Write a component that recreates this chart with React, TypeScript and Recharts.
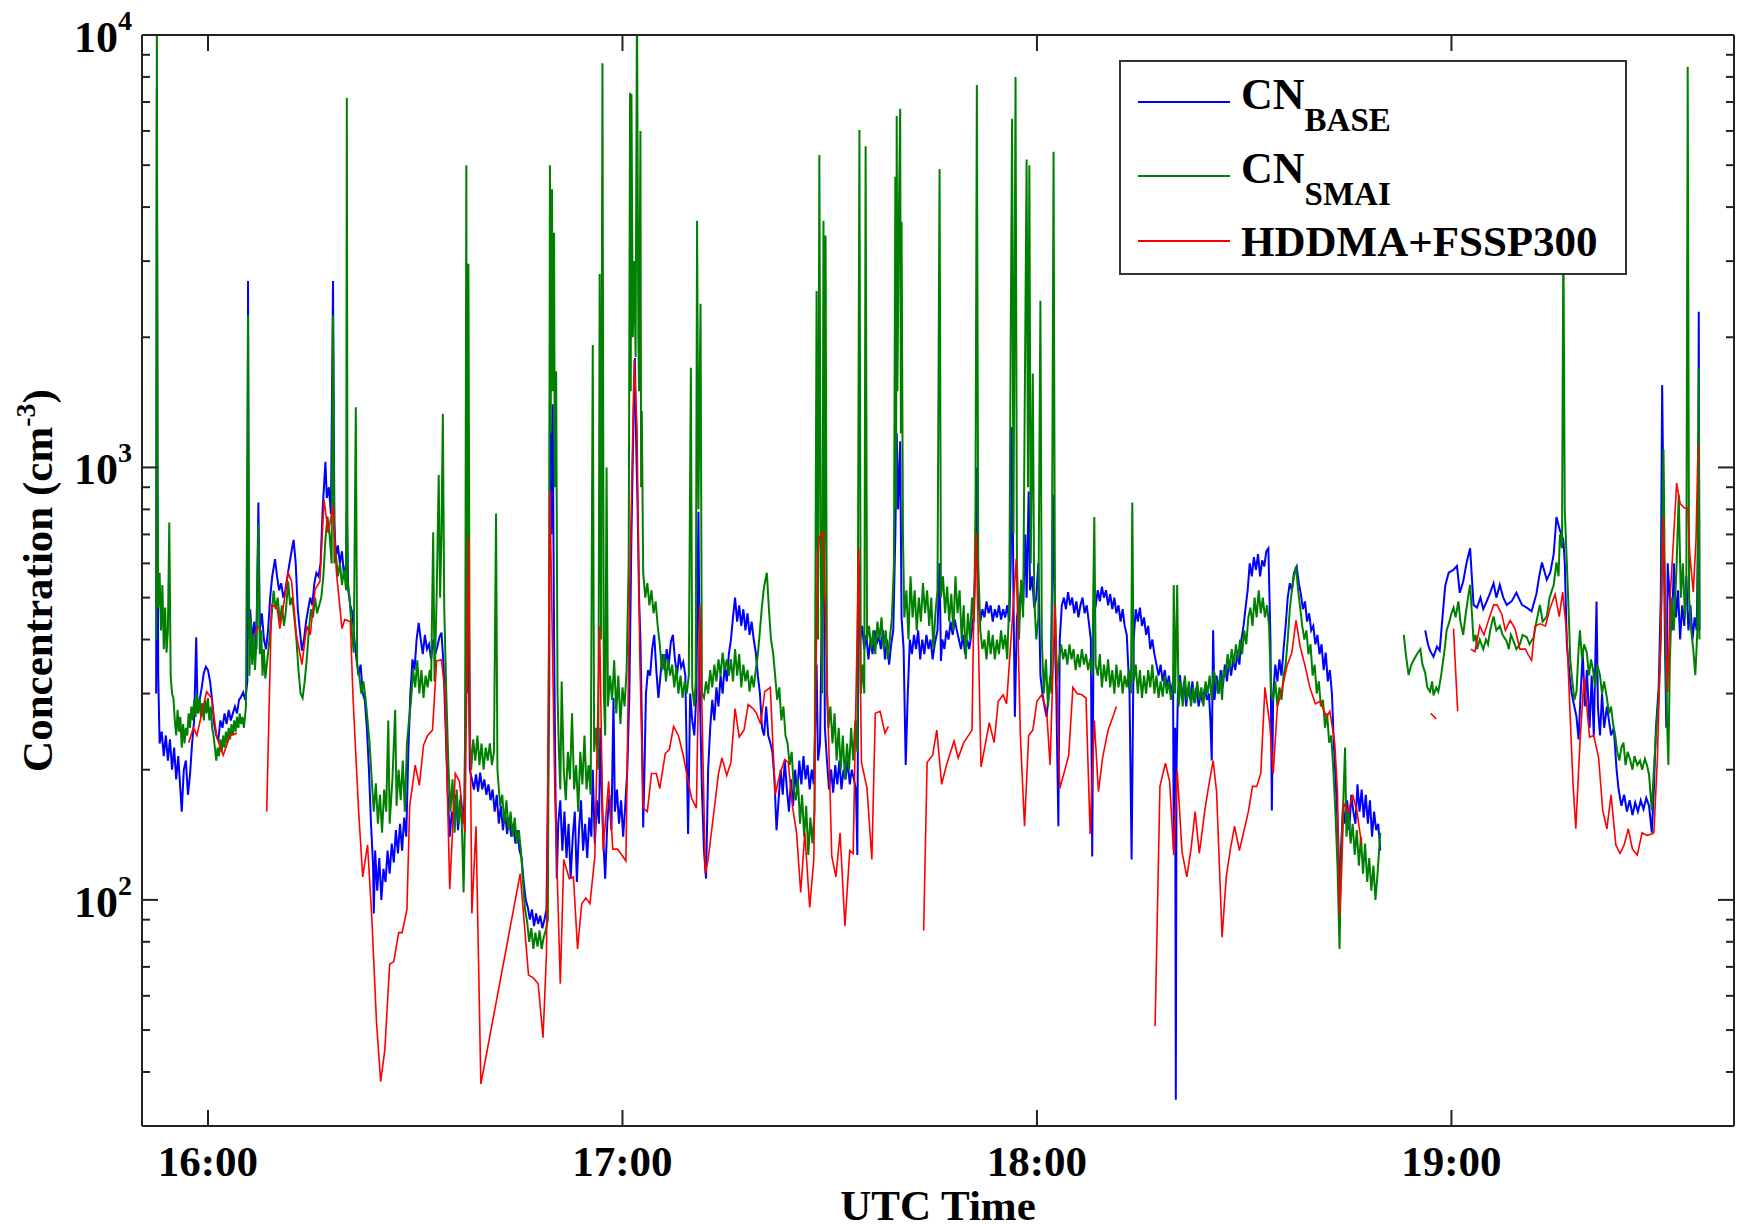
import { LineChart, Line, XAxis, YAxis, Legend } from 'recharts'

// time is minutes after 15:00 UTC, values are cm^-3
type Pt = [number, number | null]

const cnBase: Pt[] = [
  [52.5, 300], [52.6, 7500], [52.7, 900], [52.8, 330], [53.0, 230], [53.3, 245], [53.6, 215], [53.9, 240], [54.2, 210], [54.5, 235],
  [54.8, 200], [55.1, 225], [55.4, 190], [55.7, 215], [56.0, 180], [56.2, 160], [56.5, 200], [56.8, 210], [57.1, 175], [57.4, 195],
  [57.7, 230], [58.0, 260], [58.3, 405], [58.5, 270], [58.8, 290], [59.1, 310], [59.4, 335], [59.7, 346], [60.0, 340], [60.3, 320],
  [60.6, 290], [60.9, 255], [61.2, 240], [61.5, 235], [61.8, 260], [62.1, 250], [62.4, 270], [62.7, 255], [63.0, 275], [63.3, 260],
  [63.6, 270], [63.9, 280], [64.2, 270], [64.5, 290], [64.8, 295], [65.1, 302], [65.4, 290], [65.7, 320], [65.8, 2700], [65.9, 400],
  [66.1, 470], [66.4, 400], [66.7, 440], [67.0, 380], [67.3, 830], [67.5, 420], [67.8, 460], [68.1, 400], [68.4, 380], [68.7, 420],
  [69.0, 500], [69.3, 560], [69.7, 614], [70.0, 560], [70.3, 520], [70.6, 540], [70.9, 500], [71.2, 520], [71.5, 560], [71.8, 600],
  [72.1, 640], [72.4, 680], [72.7, 600], [73.0, 470], [73.3, 420], [73.6, 377], [73.9, 400], [74.2, 440], [74.5, 470], [74.8, 500],
  [75.1, 480], [75.4, 540], [75.7, 570], [76.0, 560], [76.3, 600], [76.6, 800], [77.0, 1030], [77.2, 850], [77.5, 900], [77.8, 780],
  [78.1, 2700], [78.3, 750], [78.5, 620], [78.8, 660], [79.1, 600], [79.4, 640], [79.7, 560], [80.0, 600], [80.1, 790], [80.3, 520],
  [80.6, 480], [80.9, 460], [81.2, 400], [81.5, 360], [81.8, 330], [82.1, 350], [82.4, 300], [82.7, 290], [83.0, 250], [83.3, 200],
  [83.6, 150], [83.9, 120], [84.0, 93], [84.2, 130], [84.5, 105], [84.8, 125], [85.1, 100], [85.4, 118], [85.7, 110], [86.0, 130],
  [86.3, 115], [86.6, 135], [86.9, 122], [87.2, 145], [87.5, 128], [87.8, 150], [88.1, 130], [88.4, 155], [88.7, 140], [89.0, 220],
  [89.3, 300], [89.6, 360], [89.9, 340], [90.2, 400], [90.5, 437], [90.8, 400], [91.1, 370], [91.4, 410], [91.7, 380], [92.0, 390],
  [92.3, 360], [92.6, 400], [92.9, 370], [93.2, 385], [93.5, 405], [93.8, 415], [94.1, 350], [94.4, 250], [94.7, 177], [95.0, 140],
  [95.3, 160], [95.6, 150], [95.9, 175], [96.2, 145], [96.5, 170], [96.8, 150], [97.1, 165], [97.4, 400], [97.6, 700], [97.9, 200],
  [98.2, 190], [98.5, 180], [98.8, 195], [99.1, 178], [99.4, 197], [99.7, 180], [100.0, 190], [100.3, 175], [100.6, 185], [100.9, 170],
  [101.2, 180], [101.5, 160], [101.8, 175], [102.1, 150], [102.4, 165], [102.7, 145], [103.0, 160], [103.3, 142], [103.6, 155], [103.9, 140],
  [104.2, 150], [104.5, 135], [104.8, 145], [105.1, 130], [105.4, 125], [105.7, 110], [106.0, 100], [106.3, 96], [106.6, 90], [106.9, 95],
  [107.2, 87], [107.5, 93], [107.8, 88], [108.1, 92], [108.4, 86], [108.7, 90], [109.0, 95], [109.4, 300], [109.5, 1500], [109.7, 700],
  [109.9, 1400], [110.1, 400], [110.3, 180], [110.5, 112], [110.7, 150], [111.0, 170], [111.3, 130], [111.6, 160], [111.9, 125], [112.2, 150],
  [112.5, 112], [112.8, 140], [113.1, 160], [113.4, 110], [113.7, 145], [114.0, 170], [114.3, 130], [114.6, 150], [114.9, 125], [115.2, 155],
  [115.5, 140], [115.7, 200], [116.0, 135], [116.3, 170], [116.6, 150], [116.8, 250], [117.0, 180], [117.2, 140], [117.5, 112], [117.8, 150],
  [118.1, 175], [118.4, 145], [118.7, 293], [118.9, 160], [119.2, 180], [119.5, 150], [119.8, 170], [120.1, 140], [120.4, 165], [120.7, 200],
  [121.0, 300], [121.3, 700], [121.6, 1300], [121.8, 1790], [122.0, 1100], [122.2, 800], [122.4, 500], [122.6, 400], [122.8, 260], [123.0, 147],
  [123.2, 205], [123.4, 300], [123.7, 340], [124.0, 330], [124.3, 380], [124.6, 410], [124.9, 340], [125.2, 293], [125.5, 330], [125.8, 370],
  [126.1, 340], [126.4, 380], [126.7, 350], [127.0, 395], [127.3, 410], [127.6, 360], [127.9, 330], [128.2, 370], [128.5, 345], [128.8, 355],
  [129.1, 330], [129.5, 142], [129.8, 300], [130.1, 260], [130.4, 240], [130.7, 300], [131.0, 790], [131.2, 300], [131.5, 180], [131.8, 130],
  [132.1, 112], [132.4, 200], [132.7, 250], [133.0, 290], [133.3, 260], [133.6, 310], [133.9, 280], [134.2, 330], [134.5, 300], [134.8, 350],
  [135.1, 320], [135.4, 370], [135.7, 400], [136.0, 450], [136.3, 500], [136.6, 440], [136.9, 480], [137.2, 430], [137.5, 470], [137.8, 420],
  [138.1, 460], [138.4, 410], [138.7, 440], [139.0, 400], [139.3, 373], [139.6, 330], [139.9, 300], [140.2, 250], [140.5, 240], [140.8, 280],
  [141.1, 240], [141.4, 231], [141.7, 220], [142.0, 190], [142.3, 145], [142.6, 170], [142.9, 200], [143.2, 175], [143.5, 210], [143.8, 180],
  [144.1, 160], [144.4, 190], [144.7, 165], [145.0, 200], [145.3, 175], [145.6, 210], [145.9, 185], [146.2, 215], [146.5, 190], [146.8, 205],
  [147.1, 180], [147.4, 200], [147.7, 185], [148.1, 350], [148.3, 210], [148.6, 230], [149.1, 880], [149.3, 250], [149.6, 210], [149.9, 180],
  [150.2, 200], [150.5, 177], [150.8, 205], [151.1, 185], [151.4, 210], [151.7, 180], [152.0, 200], [152.3, 190], [152.6, 210], [152.9, 185],
  [153.2, 200], [153.5, 190], [153.8, 180], [154.0, 127], [154.2, 600], [154.4, 400], [154.7, 430], [155.0, 380], [155.3, 410], [155.6, 360],
  [155.9, 400], [156.2, 370], [156.5, 420], [156.8, 390], [157.1, 410], [157.4, 380], [157.7, 420], [158.0, 360], [158.3, 400], [158.6, 350],
  [158.9, 390], [159.2, 420], [159.5, 700], [159.7, 1200], [159.9, 800], [160.2, 1150], [160.4, 450], [160.7, 380], [161.0, 205], [161.3, 300],
  [161.6, 400], [161.9, 370], [162.2, 410], [162.5, 380], [162.8, 420], [163.1, 360], [163.4, 400], [163.7, 370], [164.0, 410], [164.3, 380],
  [164.6, 400], [164.9, 360], [165.2, 390], [165.6, 420], [165.9, 600], [166.1, 357], [166.3, 400], [166.6, 380], [166.9, 420], [167.2, 400],
  [167.5, 440], [167.8, 410], [168.1, 445], [168.4, 420], [168.7, 400], [169.0, 380], [169.3, 410], [169.6, 370], [169.9, 400], [170.2, 380],
  [170.5, 410], [170.8, 450], [171.1, 600], [171.3, 1000], [171.5, 500], [171.8, 440], [172.1, 470], [172.4, 450], [172.7, 490], [173.0, 460],
  [173.3, 480], [173.6, 440], [173.9, 470], [174.2, 450], [174.5, 480], [174.8, 445], [175.1, 470], [175.4, 450], [175.7, 480], [176.0, 440],
  [176.2, 600], [176.4, 1240], [176.6, 500], [176.8, 265], [177.1, 450], [177.4, 480], [177.7, 520], [178.0, 480], [178.3, 700], [178.5, 500],
  [178.8, 880], [179.0, 520], [179.3, 560], [179.6, 474], [179.9, 500], [180.2, 600], [180.5, 331], [180.8, 300], [181.1, 280], [181.4, 265],
  [181.7, 300], [182.0, 330], [182.4, 865], [182.6, 400], [182.8, 300], [183.1, 148], [183.3, 400], [183.6, 480], [183.9, 500], [184.2, 470],
  [184.5, 515], [184.8, 480], [185.1, 500], [185.4, 460], [185.7, 490], [186.0, 450], [186.3, 480], [186.6, 500], [186.9, 460], [187.2, 480],
  [187.5, 440], [187.8, 400], [188.0, 126], [188.2, 450], [188.5, 480], [188.8, 520], [189.1, 490], [189.4, 530], [189.7, 500], [190.0, 520],
  [190.3, 480], [190.6, 510], [190.9, 470], [191.2, 500], [191.5, 460], [191.8, 480], [192.1, 440], [192.4, 470], [192.7, 430], [193.0, 410],
  [193.4, 300], [193.7, 124], [194.0, 400], [194.3, 470], [194.6, 440], [194.9, 474], [195.2, 430], [195.5, 450], [195.8, 410], [196.1, 430],
  [196.4, 380], [196.7, 400], [197.0, 370], [197.3, 350], [197.6, 330], [197.9, 350], [198.2, 320], [198.5, 340], [198.8, 310], [199.1, 330],
  [199.4, 300], [199.7, 320], [199.8, 131], [200.0, 250], [200.1, 34.5], [200.2, 200], [200.4, 300], [200.7, 331], [201.0, 290], [201.3, 320],
  [201.6, 280], [201.9, 310], [202.2, 290], [202.5, 320], [202.8, 285], [203.1, 310], [203.4, 280], [203.7, 300], [204.0, 285], [204.3, 310],
  [204.6, 290], [204.9, 300], [205.1, 260], [205.3, 210], [205.5, 420], [205.7, 290], [206.0, 330], [206.3, 300], [206.6, 340], [206.9, 310],
  [207.2, 350], [207.5, 320], [207.8, 358], [208.1, 330], [208.4, 360], [208.7, 340], [209.0, 370], [209.3, 350], [209.6, 400], [209.9, 430],
  [210.2, 474], [210.5, 520], [210.8, 600], [211.1, 560], [211.4, 620], [211.7, 580], [212.0, 630], [212.3, 560], [212.6, 610], [212.9, 590],
  [213.2, 640], [213.5, 650], [213.8, 400], [214.0, 161], [214.2, 300], [214.5, 350], [214.8, 320], [215.1, 360], [215.4, 330], [215.7, 380],
  [216.0, 430], [216.3, 500], [216.6, 540], [216.9, 520], [217.2, 570], [217.6, 590], [217.9, 540], [218.2, 510], [218.5, 470], [218.8, 490],
  [219.1, 440], [219.4, 460], [219.7, 420], [220.0, 430], [220.3, 390], [220.6, 410], [220.9, 370], [221.2, 390], [221.5, 340], [221.8, 373],
  [222.1, 320], [222.4, 340], [222.7, 300], [223.0, 225], [223.3, 180], [223.6, 140], [223.8, 96], [224.0, 130], [224.3, 165], [224.6, 150],
  [224.9, 170], [225.2, 145], [225.5, 175], [225.8, 160], [226.1, 150], [226.4, 185], [226.7, 160], [227.0, 180], [227.3, 155], [227.6, 175],
  [227.9, 150], [228.2, 170], [228.5, 140], [228.8, 160], [229.1, 145], [229.4, 150], [229.7, 130], [232.0, null],
  [236.2, 420], [236.6, 390], [236.9, 377], [237.4, 365], [237.9, 385], [238.3, 377], [238.7, 450], [239.1, 533], [239.6, 571], [240.3, 580],
  [240.8, 592], [241.2, 513], [241.7, 545], [242.2, 603], [242.7, 650], [243.2, 481], [243.7, 474], [244.2, 500], [244.6, 470], [245.1, 490],
  [245.6, 513], [246.1, 540], [246.5, 500], [247.0, 535], [247.5, 500], [248.0, 481], [248.7, 490], [249.4, 513], [250.2, 481], [250.9, 474],
  [251.6, 465], [252.3, 510], [252.7, 560], [253.1, 603], [253.8, 550], [254.3, 571], [254.8, 630], [255.2, 768], [255.7, 715], [256.2, 680],
  [256.4, 603], [256.7, 390], [257.1, 330], [257.4, 300], [258.1, 265], [258.4, 235], [258.7, 300], [259.0, 373], [259.3, 280], [259.6, 340],
  [260.0, 250], [260.3, 330], [260.6, 240], [261.0, 490], [261.2, 280], [261.5, 240], [261.8, 300], [262.1, 250], [262.5, 280], [262.8, 260],
  [263.1, 240], [263.5, 250], [263.9, 200], [264.2, 180], [264.6, 165], [265.0, 175], [265.4, 160], [265.8, 170], [266.2, 157], [266.6, 168],
  [267.0, 160], [267.4, 170], [267.8, 162], [268.2, 172], [268.6, 165], [269.0, 143], [269.3, 180], [269.6, 250], [270.0, 310], [270.3, 500],
  [270.5, 1550], [270.7, 800], [270.9, 400], [271.1, 250], [271.3, 600], [271.6, 500], [271.9, 420], [272.2, 600], [272.5, 450], [272.8, 520],
  [273.1, 400], [273.4, 480], [273.7, 430], [274.0, 560], [274.3, 420], [274.6, 480], [274.9, 400], [275.2, 450], [275.5, 420], [275.7, 700],
  [275.8, 2290], [275.9, 420],
]

const cnSmai: Pt[] = [
  [52.5, 400], [52.6, 12000], [52.7, 865], [52.8, 474], [53.0, 571], [53.2, 420], [53.4, 535], [53.6, 380], [53.8, 474], [54.0, 373],
  [54.2, 420], [54.4, 746], [54.6, 330], [54.8, 300], [55.0, 293], [55.2, 260], [55.4, 240], [55.6, 275], [55.8, 245], [56.0, 265],
  [56.2, 225], [56.4, 255], [56.6, 230], [56.8, 250], [57.0, 240], [57.2, 270], [57.4, 250], [57.6, 280], [57.8, 260], [58.0, 290],
  [58.2, 265], [58.4, 300], [58.6, 270], [58.8, 293], [59.0, 265], [59.2, 285], [59.4, 260], [59.6, 290], [59.8, 270], [60.0, 293],
  [60.2, 260], [60.4, 280], [60.6, 250], [60.8, 240], [61.0, 225], [61.2, 210], [61.4, 225], [61.6, 215], [61.8, 235], [62.0, 220],
  [62.2, 240], [62.4, 225], [62.6, 245], [62.8, 230], [63.0, 250], [63.2, 235], [63.4, 255], [63.6, 240], [63.8, 260], [64.0, 245],
  [64.2, 265], [64.4, 250], [64.6, 270], [64.8, 255], [65.0, 265], [65.2, 250], [65.5, 280], [65.8, 2250], [66.0, 330], [66.2, 450],
  [66.4, 350], [66.6, 410], [66.8, 340], [67.0, 390], [67.3, 740], [67.5, 370], [67.7, 420], [67.9, 330], [68.1, 380], [68.3, 325],
  [68.6, 360], [68.9, 400], [69.2, 450], [69.5, 519], [69.8, 470], [70.1, 500], [70.4, 440], [70.7, 480], [71.0, 430], [71.3, 470],
  [71.6, 545], [71.9, 480], [72.2, 500], [72.5, 450], [72.8, 400], [73.1, 340], [73.4, 300], [73.7, 293], [74.0, 320], [74.3, 360],
  [74.6, 420], [74.9, 470], [75.2, 450], [75.5, 500], [75.8, 460], [76.1, 480], [76.4, 500], [76.7, 560], [77.0, 680], [77.3, 770],
  [77.6, 700], [77.9, 600], [78.1, 2250], [78.3, 600], [78.5, 635], [78.8, 560], [79.1, 600], [79.4, 535], [79.7, 580], [80.0, 520],
  [80.1, 7150], [80.2, 550], [80.5, 500], [80.8, 420], [81.1, 373], [81.4, 1377], [81.6, 350], [81.9, 330], [82.2, 300], [82.5, 320],
  [82.8, 293], [83.1, 260], [83.4, 230], [83.7, 190], [84.0, 160], [84.3, 186], [84.6, 150], [84.9, 175], [85.2, 143], [85.5, 180],
  [85.8, 160], [86.1, 260], [86.3, 150], [86.7, 190], [87.1, 275], [87.3, 165], [87.6, 200], [87.9, 170], [88.2, 210], [88.5, 160],
  [88.8, 230], [89.1, 260], [89.4, 290], [89.7, 340], [90.0, 310], [90.3, 358], [90.6, 300], [90.9, 340], [91.2, 293], [91.5, 330],
  [91.8, 310], [92.1, 340], [92.3, 320], [92.6, 708], [92.8, 320], [93.1, 500], [93.4, 960], [93.6, 500], [93.8, 700], [94.0, 1330],
  [94.2, 474], [94.5, 300], [94.8, 205], [95.1, 160], [95.4, 190], [95.7, 143], [96.0, 180], [96.3, 150], [96.6, 175], [96.8, 140],
  [97.0, 104], [97.2, 150], [97.4, 5000], [97.5, 300], [97.7, 2960], [97.9, 240], [98.1, 200], [98.4, 235], [98.7, 210], [99.0, 240],
  [99.3, 205], [99.6, 230], [99.9, 200], [100.2, 225], [100.5, 210], [100.8, 230], [101.1, 205], [101.4, 220], [101.7, 783], [101.9, 200],
  [102.1, 181], [102.3, 165], [102.6, 175], [102.9, 150], [103.2, 170], [103.5, 145], [103.8, 160], [104.1, 140], [104.4, 155], [104.7, 135],
  [105.0, 145], [105.3, 130], [105.6, 110], [105.9, 95], [106.2, 89], [106.5, 80], [106.8, 86], [107.1, 77], [107.4, 84], [107.7, 78],
  [108.0, 85], [108.3, 77], [108.6, 82], [108.9, 85], [109.2, 90], [109.4, 600], [109.5, 5000], [109.6, 1200], [109.8, 4400], [109.9, 1500],
  [110.1, 3490], [110.2, 900], [110.4, 1670], [110.6, 300], [110.8, 220], [111.0, 180], [111.2, 320], [111.5, 200], [111.8, 170], [112.1, 220],
  [112.4, 190], [112.7, 270], [113.0, 180], [113.3, 205], [113.6, 160], [113.9, 220], [114.2, 185], [114.5, 240], [114.8, 180], [115.1, 205],
  [115.4, 175], [115.7, 1920], [115.9, 220], [116.2, 250], [116.5, 200], [116.7, 2800], [116.9, 400], [117.1, 8600], [117.3, 300], [117.5, 240],
  [117.7, 1000], [117.9, 280], [118.2, 330], [118.5, 290], [118.8, 358], [119.1, 270], [119.4, 330], [119.7, 255], [120.0, 310], [120.3, 280],
  [120.6, 340], [120.9, 600], [121.1, 7350], [121.2, 1500], [121.3, 7300], [121.5, 2000], [121.7, 3000], [121.9, 1800], [122.1, 12000], [122.3, 2000],
  [122.4, 1500], [122.6, 6000], [122.7, 900], [122.8, 1350], [123.0, 571], [123.3, 500], [123.6, 540], [123.9, 480], [124.2, 520], [124.5, 460],
  [124.8, 490], [125.1, 430], [125.4, 390], [125.7, 340], [126.0, 370], [126.3, 320], [126.6, 360], [126.9, 330], [127.2, 350], [127.5, 310],
  [127.8, 345], [128.1, 300], [128.4, 330], [128.7, 293], [129.0, 320], [129.3, 300], [129.6, 330], [129.9, 1700], [130.1, 310], [130.4, 280],
  [130.6, 320], [130.8, 3720], [131.0, 800], [131.3, 2390], [131.5, 300], [131.8, 293], [132.1, 320], [132.4, 300], [132.7, 340], [133.0, 310],
  [133.3, 350], [133.6, 320], [133.9, 360], [134.2, 330], [134.5, 373], [134.8, 340], [135.1, 360], [135.4, 330], [135.7, 360], [136.0, 320],
  [136.3, 380], [136.6, 330], [136.9, 370], [137.2, 310], [137.5, 350], [137.8, 320], [138.1, 340], [138.4, 303], [138.7, 330], [139.0, 310],
  [139.3, 340], [139.6, 370], [139.9, 420], [140.2, 480], [140.5, 530], [140.9, 571], [141.2, 470], [141.5, 400], [141.8, 373], [142.1, 330],
  [142.4, 290], [142.7, 310], [143.0, 260], [143.3, 280], [143.6, 240], [143.9, 230], [144.2, 205], [144.5, 220], [144.8, 181], [145.1, 170],
  [145.4, 190], [145.7, 150], [146.0, 175], [146.3, 140], [146.6, 165], [146.9, 127], [147.2, 155], [147.5, 135], [147.8, 160], [148.1, 2560],
  [148.3, 400], [148.5, 5280], [148.7, 600], [148.9, 300], [149.1, 3720], [149.2, 500], [149.4, 3440], [149.6, 300], [149.8, 250], [150.1, 280],
  [150.4, 230], [150.7, 270], [151.0, 210], [151.3, 250], [151.6, 200], [151.9, 240], [152.2, 190], [152.5, 230], [152.8, 200], [153.1, 250],
  [153.4, 210], [153.7, 260], [154.0, 220], [154.3, 6030], [154.5, 300], [154.8, 350], [155.0, 300], [155.2, 5530], [155.4, 400], [155.7, 430],
  [156.0, 380], [156.3, 420], [156.6, 370], [156.9, 440], [157.2, 400], [157.5, 450], [157.8, 380], [158.1, 420], [158.4, 360], [158.7, 400],
  [159.0, 450], [159.3, 600], [159.5, 4700], [159.6, 800], [159.7, 6500], [159.8, 1500], [160.0, 3700], [160.2, 6750], [160.3, 1200], [160.4, 3700],
  [160.6, 700], [160.8, 450], [161.1, 520], [161.4, 400], [161.7, 560], [162.0, 450], [162.3, 520], [162.6, 420], [162.9, 500], [163.2, 440],
  [163.5, 540], [163.8, 460], [164.1, 520], [164.4, 430], [164.7, 500], [165.0, 380], [165.3, 460], [165.6, 520], [165.9, 4900], [166.1, 500],
  [166.4, 560], [166.7, 460], [167.0, 530], [167.3, 440], [167.6, 510], [167.9, 420], [168.2, 560], [168.5, 460], [168.8, 520], [169.1, 400],
  [169.4, 480], [169.7, 360], [170.0, 460], [170.3, 400], [170.6, 500], [170.9, 440], [171.1, 800], [171.3, 7660], [171.5, 600], [171.8, 420],
  [172.1, 380], [172.4, 400], [172.7, 360], [173.0, 420], [173.3, 370], [173.6, 410], [173.9, 360], [174.2, 400], [174.5, 370], [174.8, 420],
  [175.1, 380], [175.4, 410], [175.7, 360], [176.0, 500], [176.2, 2000], [176.4, 6400], [176.6, 700], [176.9, 8000], [177.1, 600], [177.4, 400],
  [177.7, 550], [178.0, 450], [178.2, 1200], [178.5, 5150], [178.7, 900], [178.9, 5000], [179.1, 600], [179.4, 1650], [179.6, 500], [179.9, 400],
  [180.2, 450], [180.5, 2430], [180.7, 400], [181.0, 300], [181.3, 360], [181.6, 280], [181.9, 330], [182.1, 300], [182.4, 5370], [182.6, 500],
  [182.9, 320], [183.2, 360], [183.5, 390], [183.8, 360], [184.1, 380], [184.4, 350], [184.7, 390], [185.0, 360], [185.3, 380], [185.6, 340],
  [185.9, 370], [186.2, 345], [186.5, 380], [186.8, 350], [187.1, 370], [187.4, 340], [187.7, 360], [188.0, 330], [188.3, 768], [188.5, 350],
  [188.8, 330], [189.1, 370], [189.4, 310], [189.7, 350], [190.0, 320], [190.3, 360], [190.6, 310], [190.9, 340], [191.2, 300], [191.5, 350],
  [191.8, 310], [192.1, 340], [192.4, 300], [192.7, 330], [193.0, 310], [193.3, 340], [193.6, 300], [193.8, 830], [194.0, 320], [194.3, 350],
  [194.6, 300], [194.9, 340], [195.2, 293], [195.5, 330], [195.8, 300], [196.1, 340], [196.4, 310], [196.7, 350], [197.0, 300], [197.3, 330],
  [197.6, 293], [197.9, 320], [198.2, 295], [198.5, 330], [198.8, 300], [199.1, 320], [199.4, 290], [199.7, 310], [199.8, 535], [200.0, 300],
  [200.3, 535], [200.5, 280], [200.8, 320], [201.1, 280], [201.4, 330], [201.7, 290], [202.0, 320], [202.3, 280], [202.6, 310], [202.9, 285],
  [203.2, 320], [203.5, 290], [203.8, 310], [204.1, 280], [204.4, 320], [204.7, 300], [205.0, 330], [205.3, 290], [205.6, 340], [205.9, 320],
  [206.2, 300], [206.5, 330], [206.8, 290], [207.0, 340], [207.3, 330], [207.6, 370], [207.9, 340], [208.2, 380], [208.5, 350], [208.8, 390],
  [209.1, 360], [209.4, 400], [209.7, 370], [210.0, 420], [210.3, 390], [210.6, 450], [210.9, 474], [211.2, 430], [211.5, 500], [211.8, 450],
  [212.1, 520], [212.4, 460], [212.7, 500], [213.0, 450], [213.3, 480], [213.6, 430], [213.9, 300], [214.2, 290], [214.5, 320], [214.8, 280],
  [215.1, 310], [215.4, 290], [215.7, 330], [216.0, 350], [216.3, 400], [216.6, 470], [216.9, 520], [217.2, 560], [217.5, 590], [217.8, 520],
  [218.1, 474], [218.4, 430], [218.7, 400], [219.0, 420], [219.3, 370], [219.6, 390], [219.9, 330], [220.2, 350], [220.5, 300], [220.8, 320],
  [221.1, 280], [221.4, 290], [221.7, 250], [222.0, 270], [222.3, 231], [222.6, 240], [222.9, 200], [223.2, 160], [223.5, 120], [223.8, 77],
  [224.0, 120], [224.3, 161], [224.6, 225], [224.8, 140], [225.1, 160], [225.4, 135], [225.7, 150], [226.0, 127], [226.3, 145], [226.6, 120],
  [226.9, 140], [227.2, 115], [227.5, 135], [227.8, 110], [228.1, 125], [228.4, 105], [228.7, 120], [229.0, 100], [229.3, 115], [229.7, 143],
  [231.0, null],
  [233.1, 410], [233.4, 370], [233.8, 331], [234.2, 350], [234.6, 360], [235.0, 370], [235.5, 380], [235.8, 350], [236.2, 335], [236.5, 310],
  [236.9, 303], [237.2, 320], [237.4, 297], [237.8, 310], [238.1, 303], [238.5, 330], [238.8, 358], [239.1, 390], [239.3, 420], [239.7, 440],
  [240.0, 460], [240.3, 474], [240.6, 450], [241.0, 490], [241.3, 440], [241.7, 410], [242.0, 450], [242.4, 500], [242.7, 535], [243.0, 450],
  [243.2, 396], [243.5, 410], [243.7, 380], [244.1, 400], [244.6, 380], [245.0, 400], [245.3, 390], [245.6, 420], [245.9, 440], [246.1, 452],
  [246.5, 420], [247.0, 430], [247.4, 410], [248.0, 396], [248.3, 380], [248.6, 410], [249.0, 396], [249.4, 380], [249.9, 390], [250.3, 410],
  [250.9, 405], [251.3, 390], [251.9, 405], [252.3, 440], [252.8, 481], [253.2, 440], [253.8, 452], [254.2, 500], [254.8, 535], [255.2, 603],
  [255.5, 560], [255.7, 700], [256.0, 650], [256.2, 3600], [256.4, 800], [256.7, 603], [257.0, 450], [257.2, 358], [257.5, 320], [257.8, 290],
  [258.1, 303], [258.4, 380], [258.6, 420], [258.9, 360], [259.2, 390], [259.6, 373], [259.9, 330], [260.2, 360], [260.5, 340], [260.8, 310],
  [261.1, 350], [261.5, 331], [261.8, 300], [262.1, 320], [262.5, 293], [262.8, 270], [263.1, 280], [263.4, 255], [263.7, 240], [264.0, 220],
  [264.3, 210], [264.6, 225], [264.9, 231], [265.2, 205], [265.5, 220], [265.9, 210], [266.2, 200], [266.5, 215], [266.9, 205], [267.3, 210],
  [267.6, 200], [268.0, 212], [268.3, 205], [268.6, 195], [269.0, 161], [269.3, 200], [269.6, 240], [270.0, 293], [270.3, 400], [270.5, 700],
  [270.7, 1100], [270.9, 500], [271.1, 300], [271.4, 205], [271.6, 350], [271.9, 500], [272.2, 420], [272.6, 600], [272.9, 865], [273.2, 500],
  [273.5, 600], [273.8, 450], [274.0, 520], [274.2, 8440], [274.4, 500], [274.7, 420], [275.0, 380], [275.3, 331], [275.6, 420], [275.8, 1700],
  [275.9, 400],
]

const hddma: Pt[] = [
  [57.2, 231], [57.9, 250], [58.4, 240], [59.8, 303], [60.5, 293], [61.3, 237], [62.2, 216], [63.2, 240], [64.2, 243], [65.0, null],
  [66.8, 410], [67.3, 430], [67.8, null],
  [68.5, 160], [69.2, 481], [70.0, 474], [70.4, 424], [70.9, 474], [71.6, 571], [72.1, 545], [72.8, 410], [73.6, 350], [74.3, 430],
  [74.8, 410], [75.5, 522], [76.2, 545], [76.8, 843], [77.4, 706], [78.1, 815], [78.6, 571], [79.4, 424], [79.8, 445], [80.6, 440],
  [81.0, 293], [81.8, 161], [82.4, 113], [83.1, 134], [83.7, 92], [84.4, 52], [85.0, 38], [85.6, 45], [86.3, 71], [86.9, 72],
  [87.6, 84], [88.1, 84], [88.8, 95], [89.2, 165], [90.0, 205], [90.6, 184], [91.2, 228], [91.8, 240], [92.5, 247], [93.1, 357],
  [93.8, 359], [94.3, 303], [95.0, 106], [95.8, 196], [96.4, 188], [97.2, 143], [97.7, 690], [98.2, 93], [98.8, 148], [99.5, 37.5],
  [105.2, 115], [106.4, 67], [107.1, 66], [107.8, 64], [108.5, 48], [109.0, 75], [109.5, 885], [110.2, 181], [111.0, 64], [111.5, 124],
  [112.3, 112], [112.9, 113], [113.5, 77], [114.1, 98], [114.7, 101], [115.3, 98], [116.0, 126], [116.7, 430], [117.2, 130], [118.0, 188],
  [118.6, 131], [119.3, 131], [119.9, 127], [120.5, 123], [121.0, 474], [121.7, 1770], [122.1, 1242], [122.5, 373], [123.0, 163], [123.6, 160],
  [124.2, 196], [124.9, 196], [125.4, 181], [126.2, 218], [126.8, 223], [127.4, 252], [128.1, 240], [128.8, 216], [129.5, 188], [130.0, 172],
  [130.7, 163], [131.2, 481], [132.0, 115], [132.4, 124], [133.2, 158], [133.9, 196], [134.4, 213], [135.1, 194], [135.7, 208], [136.3, 277],
  [136.9, 238], [137.6, 247], [138.2, 283], [138.9, 277], [139.4, 270], [140.0, 255], [140.6, 303], [141.4, 310], [142.1, 175], [142.8, 196],
  [143.5, 211], [144.0, 208], [144.6, 165], [145.2, 143], [145.8, 104], [146.4, 143], [147.1, 96], [147.7, 124], [148.2, 603], [148.5, 690],
  [149.1, 708], [149.6, 324], [150.3, 126], [150.9, 113], [151.5, 143], [152.2, 87], [152.9, 130], [153.4, 128], [153.8, 293], [154.2, 650],
  [154.6, 208], [155.4, 181], [156.1, 124], [156.6, 270], [157.3, 273], [158.0, 243], [158.5, 252], [160.0, null],
  [163.6, 85], [164.1, 208], [164.9, 216], [165.5, 247], [166.2, 185], [166.9, 205], [168.0, 233], [168.6, 213], [169.4, 231], [170.6, 247],
  [170.8, 410], [171.2, 706], [171.9, 203], [172.5, 228], [173.1, 257], [173.8, 231], [174.4, 288], [175.1, 298], [175.6, 284], [176.4, 435],
  [177.0, 615], [177.6, 240], [178.2, 148], [178.8, 240], [179.4, 247], [180.0, 288], [180.7, 298], [181.4, 273], [181.9, 205], [182.6, 480],
  [183.3, 181], [183.9, 196], [184.6, 216], [185.2, 310], [185.8, 300], [186.5, 298], [187.1, 293], [187.7, 142], [188.3, 260], [188.9, 178],
  [189.5, 213], [190.3, 247], [191.0, 265], [191.5, 280], [193.0, null],
  [197.1, 51], [197.8, 183], [198.6, 207], [199.2, 188], [199.8, 127], [200.3, 199], [201.0, 129], [201.7, 113], [202.3, 131], [202.9, 160],
  [203.5, 128], [204.3, 161], [204.8, 181], [205.5, 210], [206.0, 178], [206.8, 82], [207.4, 113], [208.0, 131], [208.6, 148], [209.3, 130],
  [209.9, 143], [210.6, 160], [211.2, 183], [211.8, 183], [212.4, 196], [213.0, 310], [213.7, 255], [214.2, 196], [214.8, 280], [215.4, 303],
  [216.2, 348], [216.9, 373], [217.5, 443], [218.1, 385], [218.8, 348], [219.5, 310], [220.3, 284], [221.0, 288], [221.9, 265], [222.4, 273],
  [223.1, 231], [223.5, 178], [223.8, 92], [224.1, 116], [224.4, 167], [225.1, 160], [225.7, 175], [226.3, 161], [227.0, 134], [228.0, null],
  [237.0, 270], [237.8, 262], [238.5, null],
  [240.3, 424], [240.9, 273], [241.5, null],
  [242.8, 380], [243.4, 375], [244.1, 430], [244.7, 410], [245.3, 440], [246.1, 481], [246.6, 481], [247.3, 457], [247.8, 420], [248.5, 443],
  [249.2, 424], [249.9, 380], [250.7, 380], [251.1, 369], [251.6, 358], [252.1, 430], [252.8, 435], [253.6, 430], [254.3, 474], [255.0, 509],
  [255.6, 452], [256.1, 515], [256.7, 410], [257.3, 240], [257.6, 185], [258.0, 146], [258.6, 231], [259.2, 328], [260.0, 238], [260.6, 240],
  [261.3, 213], [261.9, 161], [262.5, 146], [263.1, 175], [263.8, 134], [264.4, 128], [265.0, 134], [265.6, 146], [266.2, 131], [266.9, 127],
  [267.6, 143], [268.3, 141], [269.0, 142], [269.3, 143], [269.8, 210], [270.3, 410], [270.7, 768], [270.9, 496], [271.3, 303], [271.7, 515],
  [272.1, 663], [272.6, 920], [273.1, 825], [273.7, 806], [274.2, 806], [274.5, 630], [275.0, 515], [275.4, 680], [275.7, 1125],
]

const hourTicks = [60, 120, 180, 240]
const hourLabels = ['16:00', '17:00', '18:00', '19:00']
const decadeTicks = [100, 1000, 10000]
const decadeExp = ['2', '3', '4']
const concTicks = [
  40, 50, 60, 70, 80, 90, 100,
  200, 300, 400, 500, 600, 700, 800, 900, 1000,
  2000, 3000, 4000, 5000, 6000, 7000, 8000, 9000, 10000,
]

const SERIES = [
  { key: 'base', name: 'CN', sub: 'BASE', color: '#0000ff', data: cnBase },
  { key: 'smai', name: 'CN', sub: 'SMAI', color: '#008000', data: cnSmai },
  { key: 'hddma', name: 'HDDMA+FSSP300', sub: '', color: '#ff0000', data: hddma },
]

const AXIS = '#222'
const FONT = { fontFamily: "'Liberation Serif', 'Times New Roman', serif", fontWeight: 700, fill: '#000' }

const toRows = (pts: Pt[]) => pts.map(([t, v]) => ({ t, v }))

function LeftTick({ x, y, payload }: any) {
  const i = decadeTicks.indexOf(payload.value)
  return (
    <g>
      <line x1={x} x2={x + (i >= 0 ? 16 : 8)} y1={y} y2={y} stroke={AXIS} strokeWidth={2} />
      {i >= 0 && (
        <text x={x - 10} y={y + 17} textAnchor="end" fontSize={44} style={FONT}>
          <tspan>10</tspan>
          <tspan dy={-22} fontSize={28}>{decadeExp[i]}</tspan>
        </text>
      )}
    </g>
  )
}

function RightTick({ x, y, payload }: any) {
  const major = decadeTicks.includes(payload.value)
  return <line x1={x} x2={x - (major ? 16 : 8)} y1={y} y2={y} stroke={AXIS} strokeWidth={2} />
}

function BottomTick({ x, y, payload }: any) {
  const label = hourLabels[hourTicks.indexOf(payload.value)]
  return (
    <g>
      <line x1={x} x2={x} y1={y} y2={y - 16} stroke={AXIS} strokeWidth={2} />
      <text x={x} y={y + 50} textAnchor="middle" fontSize={43} style={FONT}>{label}</text>
    </g>
  )
}

function TopTick({ x, y }: any) {
  return <line x1={x} x2={x} y1={y} y2={y + 16} stroke={AXIS} strokeWidth={2} />
}

function YTitle({ viewBox }: any) {
  const cx = (viewBox?.x ?? 0) + 52
  const cy = (viewBox?.y ?? 35) + (viewBox?.height ?? 1091) / 2
  return (
    <text x={cx} y={cy} textAnchor="middle" fontSize={43} style={FONT} transform={`rotate(-90, ${cx}, ${cy})`}>
      <tspan>Concentration (cm</tspan>
      <tspan dy={-17} fontSize={28}>-3</tspan>
      <tspan dy={17} fontSize={43}>)</tspan>
    </text>
  )
}

function LegendBox() {
  return (
    <svg width={508} height={215} style={{ display: 'block' }}>
      <rect x={1} y={1} width={506} height={213} fill="#fff" stroke="#333" strokeWidth={2} />
      {SERIES.map((s, i) => {
        const ly = [42, 116, 181][i]
        return (
          <g key={s.key}>
            <line x1={19} x2={111} y1={ly} y2={ly} stroke={s.color} strokeWidth={2} />
            {s.sub ? (
              <text x={122} y={ly + 7} fontSize={44} style={FONT}>
                <tspan>{s.name}</tspan>
                <tspan dy={22} fontSize={33}>{s.sub}</tspan>
              </text>
            ) : (
              <text x={122} y={ly + 15} fontSize={43} style={FONT}>{s.name}</text>
            )}
          </g>
        )
      })}
    </svg>
  )
}

export default function App() {
  return (
    <div style={{ position: 'absolute', left: 0, top: 0, width: 1742, height: 1229, background: '#fff' }}>
      <LineChart width={1742} height={1229} margin={{ top: 0, right: 0, bottom: 0, left: 0 }}>
        <XAxis
          xAxisId="bottom"
          dataKey="t"
          type="number"
          domain={[50.45, 280.9]}
          allowDataOverflow
          ticks={hourTicks}
          interval={0}
          height={103}
          tickSize={0}
          tickMargin={0}
          tickLine={false}
          tick={BottomTick}
          axisLine={{ stroke: AXIS, strokeWidth: 2 }}
          label={{ value: 'UTC Time', position: 'insideBottom', offset: 9, fontSize: 43, style: FONT }}
        />
        <XAxis
          xAxisId="top"
          orientation="top"
          dataKey="t"
          type="number"
          domain={[50.45, 280.9]}
          allowDataOverflow
          ticks={hourTicks}
          interval={0}
          height={35}
          tickSize={0}
          tickMargin={0}
          tickLine={false}
          tick={TopTick}
          axisLine={{ stroke: AXIS, strokeWidth: 2 }}
        />
        <YAxis
          yAxisId="left"
          scale="log"
          type="number"
          domain={[30, 10000]}
          allowDataOverflow
          ticks={concTicks}
          interval={0}
          width={142}
          tickSize={0}
          tickMargin={0}
          tickLine={false}
          tick={LeftTick}
          axisLine={{ stroke: AXIS, strokeWidth: 2 }}
          label={<YTitle />}
        />
        <YAxis
          yAxisId="right"
          orientation="right"
          scale="log"
          type="number"
          domain={[30, 10000]}
          allowDataOverflow
          ticks={concTicks}
          interval={0}
          width={8}
          tickSize={0}
          tickMargin={0}
          tickLine={false}
          tick={RightTick}
          axisLine={{ stroke: AXIS, strokeWidth: 2 }}
        />
        {SERIES.map((s) => (
          <Line
            key={s.key}
            xAxisId="bottom"
            yAxisId="left"
            data={toRows(s.data)}
            dataKey="v"
            name={s.key}
            type="linear"
            stroke={s.color}
            strokeWidth={s.key === 'hddma' ? 1.6 : 2}
            dot={false}
            activeDot={false}
            isAnimationActive={false}
          />
        ))}
        <Line
          xAxisId="top"
          yAxisId="right"
          data={toRows(hddma)}
          dataKey="v"
          stroke="none"
          dot={false}
          activeDot={false}
          legendType="none"
          isAnimationActive={false}
        />
        <Legend
          layout="vertical"
          align="center"
          verticalAlign="middle"
          content={() => <LegendBox />}
          wrapperStyle={{ position: 'absolute', left: 1119, top: 60, width: 508, height: 215 }}
        />
      </LineChart>
    </div>
  )
}
